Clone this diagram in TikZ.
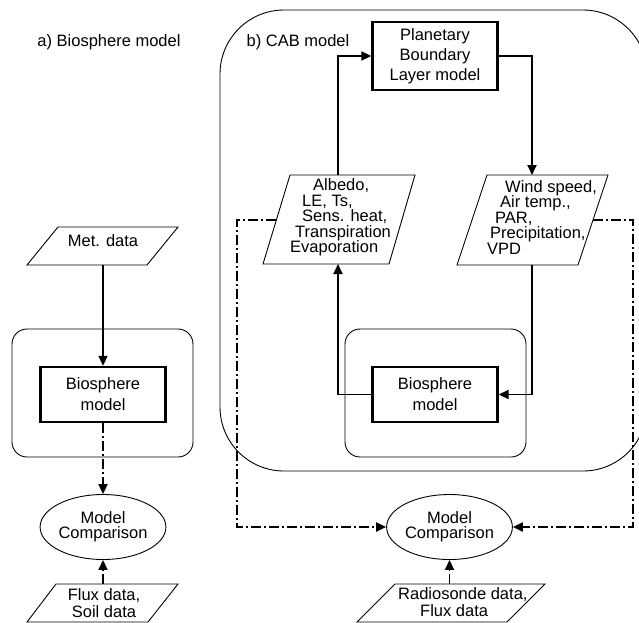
\documentclass[tikz,border=0pt]{standalone}
\usepackage{fontspec}
\setmainfont{Liberation Sans}
\usetikzlibrary{arrows.meta,shapes.geometric}
\begin{document}
\begin{tikzpicture}[x=1pt,y=-1pt,
  thinline/.style={line width=0.9pt},
  txt/.style={inner sep=0pt, font=\fontsize{16.5}{16.5}\selectfont},
  listtxt/.style={inner sep=0pt, anchor=west, align=left, font=\fontsize{16.5}{15.5}\selectfont},
  modelbox/.style={draw, line width=2.4pt, minimum width=125pt, minimum height=55pt, inner sep=0pt, align=center, font=\fontsize{16.5}{21}\selectfont},
  cmpell/.style={draw, thinline, ellipse, minimum width=124pt, minimum height=65pt, inner sep=0pt, align=center, font=\fontsize{16.5}{15}\selectfont},
  flow/.style={line width=1.9pt, -{Triangle[length=10pt,width=9pt]}},
  cmpflow/.style={line width=1.9pt, dash pattern=on 10pt off 3pt on 2pt off 3pt, -{Triangle[length=10pt,width=9pt]}}
]
\useasboundingbox (0,0) rectangle (639,622);
\fill[white] (0,0) rectangle (639,622);
\clip (0,0) rectangle (639,622);

% titles
\node[txt] (titleA) at (109,42) {a) Biosphere model};
\node[txt] (titleB) at (298,42) {b) CAB model};

% container frames
\draw[thinline, rounded corners=64pt] (220,10) rectangle (647,471);
\draw[thinline, rounded corners=15pt] (12,329) rectangle (193,457);
\draw[thinline, rounded corners=15pt] (345,329) rectangle (526,457);

% ---------- panel a ----------
\draw[thinline] (58,227) -- (178,227) -- (147,265) -- (27,265) -- cycle;
\node[txt] (metT) at (103,241) {Met. data};
\coordinate (metB) at (103,265);

\node[modelbox] (bioA) at (103,394.5) {Biosphere\\model};
\node[cmpell] (cmpA) at (103,527) {Model\\Comparison};

\draw[thinline] (56,584) -- (178,584) -- (148,622) -- (27,622) -- cycle;
\node[txt, align=center, font=\fontsize{16.5}{17}\selectfont] (fluxT) at (104,603) {Flux data,\\Soil data};
\coordinate (fluxTop) at (103,584);

\draw[flow] (metB) -- (bioA.north);
\draw[cmpflow] (bioA.south) -- (cmpA.north);
\draw[cmpflow] (fluxTop) -- (cmpA.south);

% ---------- panel b ----------
\node[modelbox, minimum height=68pt, font=\fontsize{16.5}{20}\selectfont] (pbl) at (435,56) {Planetary\\Boundary\\Layer model};

\draw[thinline] (290,175) -- (415,175) -- (389,264) -- (263,264) -- cycle;
\node[listtxt] (albT) at (290,217.5) {\hspace*{23pt}Albedo,\\\hspace*{12pt}LE, Ts,\\\hspace*{12pt}Sens. heat,\\\hspace*{5pt}Transpiration\\Evaporation};
\coordinate (albTop) at (338,175);
\coordinate (albBot) at (338,264);
\coordinate (albL) at (276,220);

\draw[thinline] (487,175) -- (608,175) -- (578,265) -- (457,265) -- cycle;
\node[listtxt] (windT) at (487,217.5) {\hspace*{18pt}Wind speed,\\\hspace*{13pt}Air temp.,\\\hspace*{8pt}PAR,\\\hspace*{3pt}Precipitation,\\VPD};
\coordinate (windTop) at (532,175);
\coordinate (windBot) at (532,265);
\coordinate (windR) at (593,220);

\node[modelbox] (bioB) at (435,394.5) {Biosphere\\model};
\node[cmpell] (cmpB) at (449.5,527) {Model\\Comparison};

\draw[thinline] (395,584) -- (545,584) -- (507,622) -- (357,622) -- cycle;
\node[listtxt, font=\fontsize{16.5}{17}\selectfont] (radT) at (398,602) {Radiosonde data,\\\hspace*{22pt}Flux data};
\coordinate (radTop) at (449.5,584);

\coordinate (cL) at (237,527);
\coordinate (cR) at (633,527);

\draw[flow] (albTop) |- (pbl.west);
\draw[flow] (pbl.east) -| (windTop);
\draw[flow] (windBot) |- (bioB.east);
\draw[flow] (bioB.west) -| (albBot);
\draw[cmpflow] (albL) -| (cL) -- (cmpB.west);
\draw[cmpflow] (windR) -| (cR) -- (cmpB.east);
\draw[cmpflow] (radTop) -- (cmpB.south);
\end{tikzpicture}
\end{document}
